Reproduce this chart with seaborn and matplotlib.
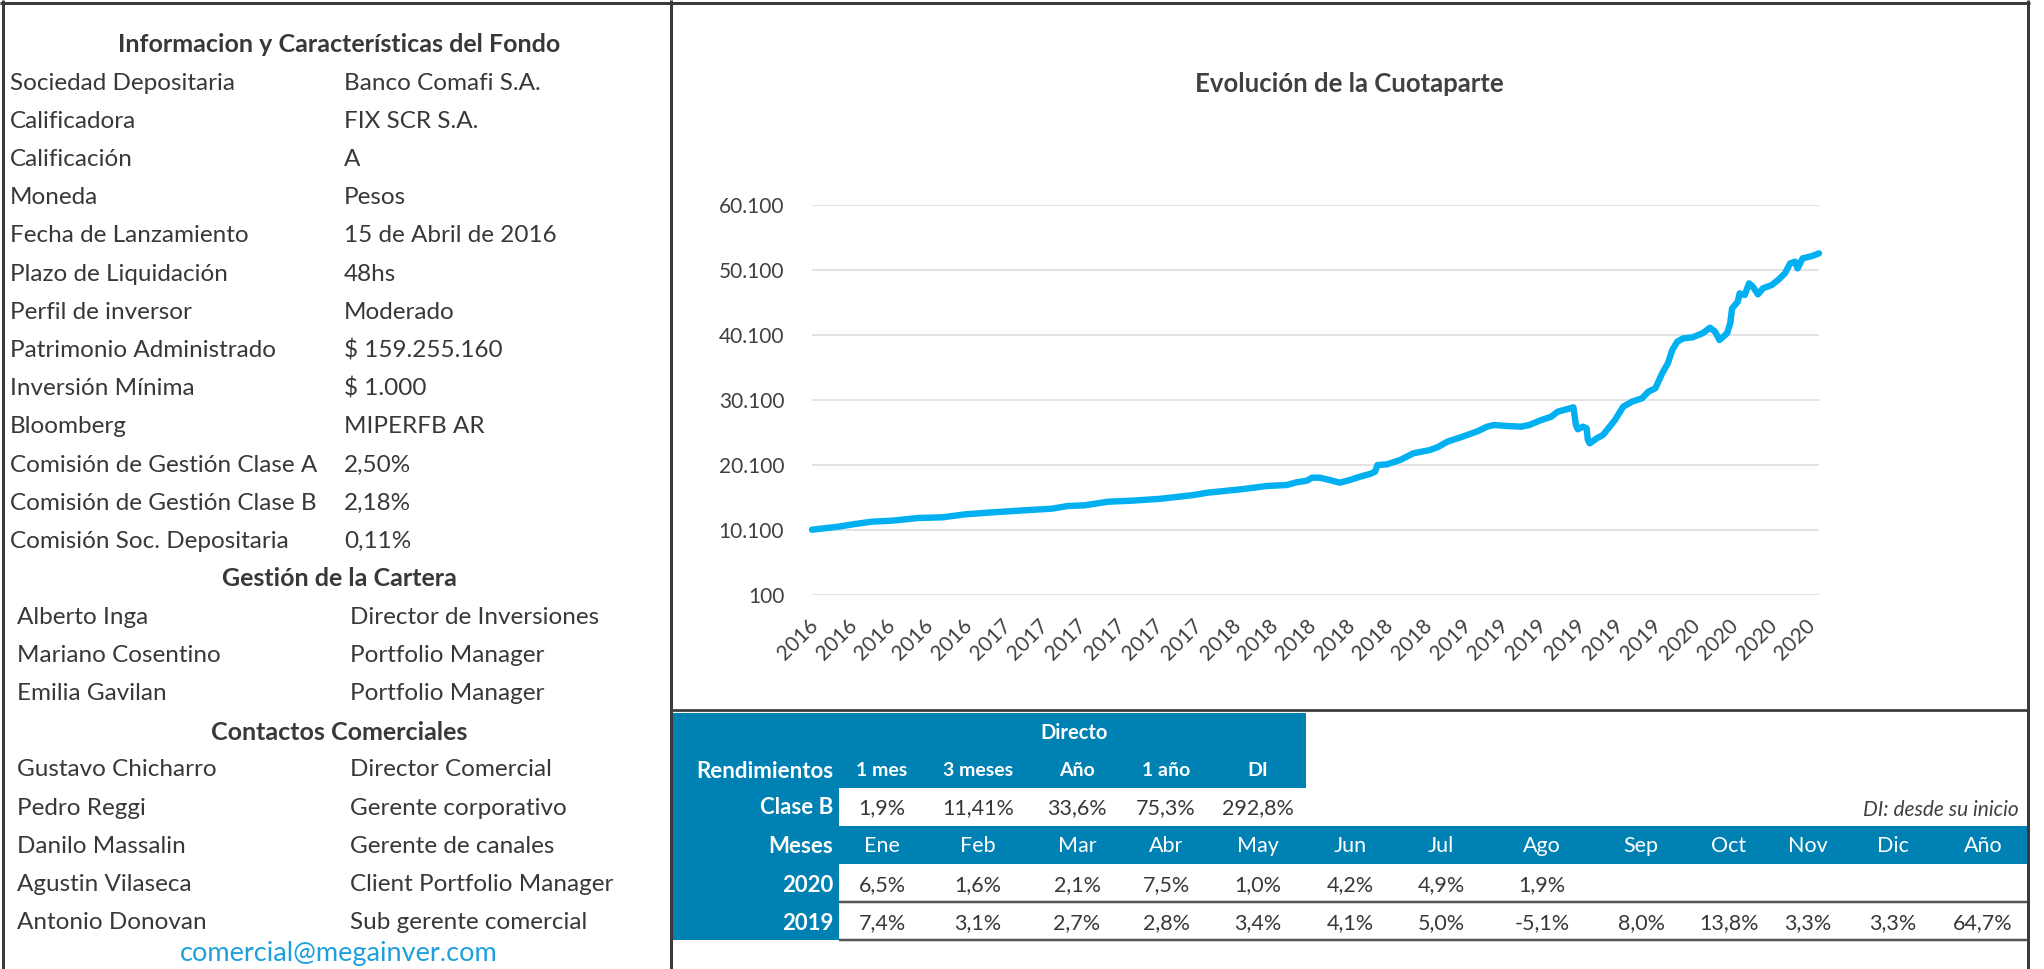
import numpy as np
import pandas as pd
import matplotlib
matplotlib.use("Agg")
import matplotlib.pyplot as plt
from matplotlib.patches import Rectangle
from matplotlib.lines import Line2D
import seaborn as sns

# ---------------- data ----------------
info_title = "Informacion y Características del Fondo"
info_labels = ["Sociedad Depositaria", "Calificadora", "Calificación", "Moneda",
               "Fecha de Lanzamiento", "Plazo de Liquidación", "Perfil de inversor",
               "Patrimonio Administrado", "Inversión Mínima", "Bloomberg",
               "Comisión de Gestión Clase A", "Comisión de Gestión Clase B",
               "Comisión Soc. Depositaria"]
info_values = ["Banco Comafi S.A.", "FIX SCR S.A.", "A", "Pesos", "15 de Abril de 2016",
               "48hs", "Moderado", "$ 159.255.160", "$ 1.000", "MIPERFB AR",
               "2,50%", "2,18%", "0,11%"]
cartera_title = "Gestión de la Cartera"
cartera_names = ["Alberto Inga", "Mariano Cosentino", "Emilia Gavilan"]
cartera_roles = ["Director de Inversiones", "Portfolio Manager", "Portfolio Manager"]
contact_title = "Contactos Comerciales"
contact_names = ["Gustavo Chicharro", "Pedro Reggi", "Danilo Massalin",
                 "Agustin Vilaseca", "Antonio Donovan"]
contact_roles = ["Director Comercial", "Gerente corporativo", "Gerente de canales",
                 "Client Portfolio Manager", "Sub gerente comercial"]
email = "comercial@megainver.com"

chart_title = "Evolución de la Cuotaparte"
fechas = ["2016-04-10", "2016-05-21", "2016-06-17", "2016-07-14", "2016-08-15", "2016-09-26",
          "2016-11-03", "2016-12-10", "2017-01-22", "2017-03-03", "2017-04-26", "2017-05-21",
          "2017-06-17", "2017-07-24", "2017-08-31", "2017-10-15", "2017-12-07", "2017-12-29",
          "2018-02-20", "2018-04-02", "2018-05-04", "2018-05-19", "2018-06-05", "2018-06-13",
          "2018-06-25", "2018-07-11", "2018-07-27", "2018-08-12", "2018-08-28", "2018-09-13",
          "2018-09-21", "2018-09-25", "2018-10-10", "2018-10-31", "2018-11-21", "2018-12-17",
          "2018-12-29", "2019-01-14", "2019-02-04", "2019-02-19", "2019-03-03", "2019-03-18",
          "2019-03-29", "2019-04-19", "2019-05-11", "2019-05-24", "2019-06-12", "2019-06-28",
          "2019-07-08", "2019-07-24", "2019-08-02", "2019-08-06", "2019-08-09", "2019-08-17",
          "2019-08-23", "2019-08-25", "2019-08-28", "2019-09-08", "2019-09-18", "2019-10-07",
          "2019-10-20", "2019-11-03", "2019-11-19", "2019-11-29", "2019-12-10", "2019-12-21",
          "2019-12-30", "2020-01-06", "2020-01-14", "2020-01-23", "2020-02-07", "2020-02-23",
          "2020-03-06", "2020-03-14", "2020-03-21", "2020-04-02", "2020-04-07", "2020-04-10",
          "2020-04-19", "2020-04-22", "2020-04-30", "2020-05-07", "2020-05-13", "2020-05-21",
          "2020-05-29", "2020-06-12", "2020-06-22", "2020-07-03", "2020-07-11", "2020-07-19",
          "2020-07-23", "2020-07-31", "2020-08-15", "2020-08-26"]
cuotaparte = [10150, 10600, 11020, 11380, 11530, 11950, 12050, 12520, 12820, 13070,
              13380, 13790, 13900, 14450, 14610, 14900, 15480, 15840, 16360, 16870,
              17020, 17430, 17690, 18150, 18150, 17790, 17380, 17790, 18300, 18720,
              19070, 20100, 20200, 20870, 21900, 22400, 22820, 23690, 24360, 24870,
              25300, 26000, 26250, 26100, 26000, 26250, 27020, 27530, 28300, 28720,
              28970, 26250, 25590, 26000, 25740, 23950, 23440, 24200, 24720, 27020,
              29070, 29840, 30360, 31380, 31890, 34200, 35740, 37790, 39070, 39580,
              39740, 40360, 41220, 40610, 39330, 40360, 41900, 44200, 45220, 46500,
              46250, 48050, 47530, 46350, 47280, 47790, 48560, 49590, 51100, 51380,
              50350, 51890, 52250, 52660]
y_ticks = [100, 10100, 20100, 30100, 40100, 50100, 60100]
x_tick_start = "2016-04-15"
x_tick_end = "2020-08-15"

directo_label = "Directo"
rend_label = "Rendimientos"
rend_headers = ["1 mes", "3 meses", "Año", "1 año", "DI"]
clase_label = "Clase B"
rend_claseB = ["1,9%", "11,41%", "33,6%", "75,3%", "292,8%"]
di_note = "DI: desde su inicio"
meses_label = "Meses"
meses = ["Ene", "Feb", "Mar", "Abr", "May", "Jun", "Jul", "Ago", "Sep", "Oct", "Nov", "Dic", "Año"]
years = ["2020", "2019"]
rend_2020 = ["6,5%", "1,6%", "2,1%", "7,5%", "1,0%", "4,2%", "4,9%", "1,9%", "", "", "", "", ""]
rend_2019 = ["7,4%", "3,1%", "2,7%", "2,8%", "3,4%", "4,1%", "5,0%", "-5,1%", "8,0%",
             "13,8%", "3,3%", "3,3%", "64,7%"]

# ---------------- style ----------------
sns.set_style("white")
plt.rcParams["font.family"] = ["Lato", "DejaVu Sans"]

W, H = 2044, 969
fig = plt.figure(figsize=(W / 100, H / 100), dpi=100)
fig.patch.set_facecolor("white")


def fx(px):
    return px / W


def fy(py):
    return 1 - py / H


TXT = "#383838"
BLUE = "#0081B4"
BORDER = "#3a3a3a"


def hline(x0, x1, y, lw_px=3, color=BORDER):
    fig.add_artist(Line2D([fx(x0), fx(x1)], [fy(y), fy(y)], transform=fig.transFigure,
                          color=color, lw=lw_px * 0.72, solid_capstyle="butt"))


def vline(x, y0, y1, lw_px=3, color=BORDER):
    fig.add_artist(Line2D([fx(x), fx(x)], [fy(y0), fy(y1)], transform=fig.transFigure,
                          color=color, lw=lw_px * 0.72, solid_capstyle="butt"))


def rect(x0, y0, x1, y1, color):
    fig.add_artist(Rectangle((fx(x0), fy(y1)), fx(x1) - fx(x0), fy(y0) - fy(y1),
                             transform=fig.transFigure, facecolor=color, edgecolor="none", zorder=0))


def text(x, y, s, ha="left", size=17, weight="normal", color=TXT, style="normal"):
    fig.text(fx(x), fy(y), s, ha=ha, va="center", fontsize=size, fontweight=weight,
             color=color, fontstyle=style)


# ---------------- chart ----------------
ax = fig.add_axes([fx(812), fy(595), fx(1819) - fx(812), fy(205) - fy(595)])
df = pd.DataFrame({"fecha": pd.to_datetime(fechas), "valor": cuotaparte})
ax.set_facecolor("none")
ax.set_ylim(y_ticks[0], y_ticks[-1])
ax.set_xlim(df["fecha"].iloc[0], df["fecha"].iloc[-1])
ax.set_yticks(y_ticks)
ax.set_yticklabels([f"{v:,}".replace(",", ".") for v in y_ticks])
ax.yaxis.grid(True, color="#E3E3E3", lw=1.4)
ax.set_axisbelow(True)
sns.lineplot(data=df, x="fecha", y="valor", ax=ax, color="#00B0F0", linewidth=4.6,
             estimator=None, clip_on=False)
xt = pd.date_range(x_tick_start, x_tick_end, freq=pd.DateOffset(months=2))
ax.set_xticks(xt)
ax.set_xticklabels([str(d.year) for d in xt], rotation=45, ha="right",
                   rotation_mode="anchor", va="center")
ax.tick_params(axis="x", length=0, pad=20, labelsize=15, labelcolor="#404040")
ax.tick_params(axis="y", length=0, pad=20, labelsize=15, labelcolor="#404040")
ax.set_xlabel("")
ax.set_ylabel("")
for sp in ax.spines.values():
    sp.set_visible(False)

text(1349, 84, chart_title, ha="center", size=18.5, weight="bold", color="#404040")

# ---------------- left panel ----------------
text(339, 44.5, info_title, ha="center", size=18, weight="bold")
row_y = [83 + 38.2 * i for i in range(len(info_labels))]
for yy, lab, val in zip(row_y, info_labels, info_values):
    text(10, yy, lab, size=17.5)
    text(344, yy, val, size=17.5)

text(339, 579, cartera_title, ha="center", size=18, weight="bold")
for i, (n, r) in enumerate(zip(cartera_names, cartera_roles)):
    text(17, 617.5 + 38 * i, n, size=17.5)
    text(350, 617.5 + 38 * i, r, size=17.5)
text(339, 732, contact_title, ha="center", size=18, weight="bold")
for i, (n, r) in enumerate(zip(contact_names, contact_roles)):
    text(17, 770 + 38.2 * i, n, size=17.5)
    text(350, 770 + 38.2 * i, r, size=17.5)
text(339, 953, email, ha="center", size=19.5, color="#1FA0DC")

# ---------------- returns table ----------------
rect(673, 713, 1306, 788, BLUE)           # top header block
rect(673, 788, 839, 940, BLUE)            # label column
rect(673, 826, 2027, 864, BLUE)           # months header row
hline(839, 2027, 901.5, lw_px=2.5, color="#555555")
hline(839, 2027, 939.5, lw_px=2.5, color="#555555")

col_x = [882, 978, 1077, 1166, 1258, 1350, 1441, 1542, 1641, 1729, 1808, 1893, 1983]
lab_x = 833
text(1074, 733, directo_label, ha="center", size=14.5, weight="bold", color="white")
text(lab_x, 771, rend_label, ha="right", size=16, weight="bold", color="white")
for x, h in zip(col_x, rend_headers):
    text(x, 771, h, ha="center", size=14, weight="bold", color="white")
text(lab_x, 808, clase_label, ha="right", size=16, weight="bold", color="white")
for x, v in zip(col_x, rend_claseB):
    text(x, 808, v, ha="center", size=15.5)
text(2019, 810, di_note, ha="right", size=15, style="italic", color="#404040")
text(lab_x, 846.5, meses_label, ha="right", size=16, weight="bold", color="white")
for x, m in zip(col_x, meses):
    text(x, 846.5, m, ha="center", size=15.5, color="white")
for yy, yr, vals in zip([885, 923], years, [rend_2020, rend_2019]):
    text(lab_x, yy, yr, ha="right", size=16, weight="bold", color="white")
    for x, v in zip(col_x, vals):
        if v:
            text(x, yy, v, ha="center", size=15.5)

# ---------------- frame ----------------
hline(0, 2030, 3)
vline(3, 0, H)
vline(2028, 0, H)
vline(671, 0, H)
hline(671, 2028, 709.5, lw_px=2.7)

fig.savefig("out.png", dpi=100)
